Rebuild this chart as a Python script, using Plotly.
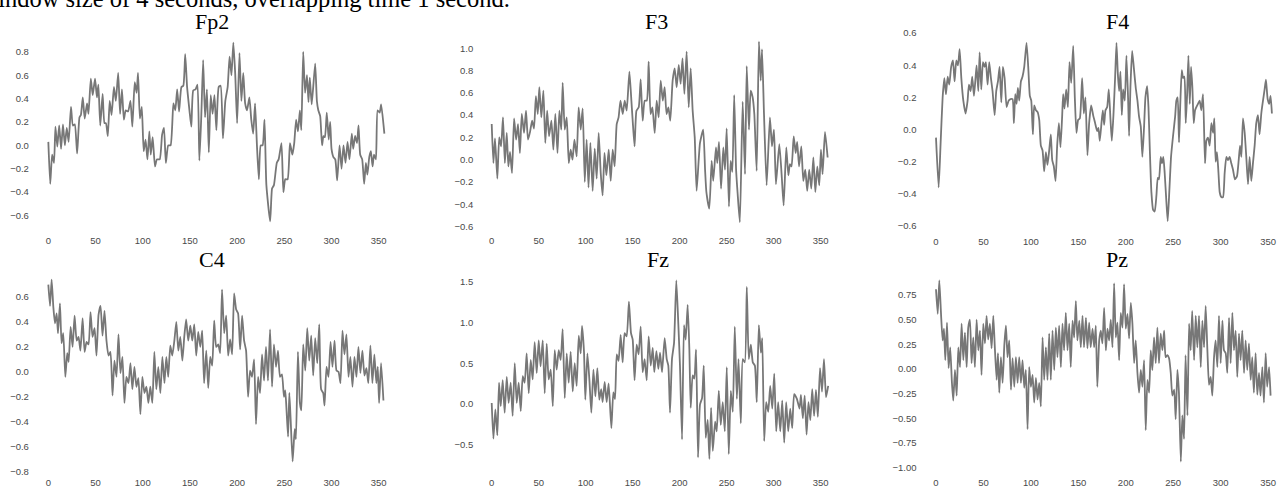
import plotly.graph_objects as go

W, H = 1288, 488

# ---------------- data ----------------
channels = ["Fp2", "F3", "F4", "C4", "Fz", "Pz"]

fp2 = [(0,0.03),(2,-0.33),(4,-0.08),(6,-0.15),(7.5,0.16),(9.5,-0.01),(11.5,0.17),(13.5,-0.03),(15.5,0.18),(17.5,0.0),
 (19.5,0.15),(21.5,0.03),(24,0.33),(26,0.17),(28,0.18),(30.5,-0.07),(33,0.24),(34.5,0.26),(36.5,0.41),(38.5,0.23),
 (41,0.36),(42.5,0.27),(45,0.57),(47,0.43),(49.5,0.57),(51.5,0.41),(53,0.52),(55,0.17),(57.5,0.44),(59.5,0.19),
 (61,0.19),(63,0.08),(65,0.38),(67,0.26),(69.5,0.5),(71.5,0.38),(74,0.62),(76,0.27),(78,0.48),(80,0.22),
 (82,0.3),(84.5,0.29),(87,0.38),(89,0.16),(91.5,0.54),(93.5,0.45),(95,0.62),(97,0.23),(99,0.33),(101,-0.05),
 (103,0.05),(105,-0.12),(107,0.12),(108.5,-0.08),(110.5,0.07),(113,-0.18),(115,-0.12),(118,-0.12),(120.5,0.09),(122.5,0.15),
 (124.5,-0.15),(127,0.0),(129.5,0.0),(132.5,0.36),(134.5,0.3),(136.5,0.48),(138.5,0.29),(141,0.5),(143,0.51),(145,0.78),
 (147,0.5),(149.5,0.3),(151.5,0.16),(153.5,0.47),(156,0.48),(158,0.52),(160,-0.13),(162,0.24),(164,0.73),(166,0.24),
 (168,0.48),(170,-0.06),(172,0.43),(174,0.27),(176,0.43),(178,0.13),(180.5,0.5),(182.5,0.51),(185,0.06),(187.5,0.38),
 (190,0.5),(192,0.76),(194,0.6),(196,0.88),(198,0.61),(200,0.19),(202.5,0.79),(204.5,0.38),(206.5,0.62),(208.5,0.36),
 (210.5,0.3),(213,0.41),(215,0.22),(217,0.1),(219,0.36),(221,0.0),(223,-0.29),(225,0.0),(227,0.0),(229,0.22),
 (231,-0.34),(235,-0.65),(237,-0.37),(239,-0.34),(242,-0.15),(244,-0.12),(247,0.02),(249,-0.4),(251,-0.29),(253.5,-0.29),
 (256,0.02),(258.5,-0.08),(260.5,0.02),(262.5,0.22),(264.5,0.12),(266.5,0.3),(268,0.13),(270,0.8),(272,0.45),(274,0.6),
 (275.6,0.37),(277,0.58),(279,0.35),(282.7,0.7),(284.5,0.38),(286,0.3),(288,0.25),(290,0.0),(291.5,0.08),(293,0.07),
 (295,0.28),(297,0.05),(298.6,0.2),(300,-0.03),(302,-0.1),(304,-0.12),(306,-0.3),(308.5,0.0),(310.6,-0.2),(312.7,0.0),
 (314.8,-0.15),(317,0.03),(319,-0.12),(321.5,0.1),(323,-0.03),(325,0.08),(327,0.02),(328.6,0.17),(330.4,-0.08),(332.5,-0.12),
 (334.6,-0.33),(336.4,-0.15),(338,-0.25),(340,-0.1),(341.7,-0.05),(343.5,-0.18),(345,-0.08),(347,-0.12),(348.8,0.3),(351,0.28),
 (352.6,0.35),(356,0.1)]

f3 = [(0,0.32),(1.8,-0.03),(3.5,0.19),(6,-0.17),(8,0.2),(10,0.12),(12,0.38),(14,-0.03),(16,0.24),(17.7,-0.06),
 (19.5,0.07),(21.6,-0.12),(23.8,0.37),(26,0.18),(28,0.32),(30,0.06),(32,0.41),(34.4,0.24),(36.5,0.44),(38.6,0.18),
 (40.8,0.25),(43,0.35),(45,0.28),(47,0.57),(49,0.41),(50.7,0.65),(52.8,0.38),(55,0.62),(57,0.15),(59,0.44),
 (61,0.21),(63.5,0.35),(65.6,0.09),(67.7,0.41),(70,0.06),(72,0.44),(74,0.27),(75.5,0.69),(77.7,0.27),(79.8,0.38),
 (82,-0.03),(84,0.09),(86,0.0),(88,0.18),(90.4,0.03),(92.5,0.47),(94.7,0.27),(96.8,0.46),(99,-0.2),(101,0.18),
 (103,-0.25),(105,0.15),(107.4,-0.28),(109.6,0.1),(111.7,-0.17),(113.8,0.24),(116,-0.12),(118,-0.32),(120,0.06),(122,-0.14),
 (124.5,0.09),(126.6,-0.19),(128.7,0.09),(130.8,-0.06),(133,0.32),(135,0.38),(137,0.53),(139.4,0.41),(141.5,0.53),(143.6,0.44),
 (146.5,0.79),(148.6,0.53),(150,0.35),(152,0.12),(154,0.44),(156.4,0.47),(158.5,0.72),(160.6,0.35),(162.8,0.53),(165,0.53),
 (167,0.88),(169,0.41),(171,0.47),(173.4,0.24),(175.5,0.53),(177.6,0.38),(179.8,0.71),(182,0.53),(184,0.65),(186,0.41),
 (188,0.47),(190,0.35),(192.5,0.71),(194.7,0.82),(196.8,0.65),(199,0.85),(201,0.68),(203,0.91),(205,0.59),(207.4,0.97),
 (209.6,0.47),(211.7,0.82),(213.8,0.44),(216,0.2),(218,-0.28),(221.6,0.15),(225,0.27),(227,-0.09),(228.4,-0.29),(231.5,-0.44),
 (234,-0.01),(235.7,-0.19),(238.6,0.11),(240,-0.03),(241.8,0.16),(244,-0.26),(246.4,0.11),(248.2,-0.09),(250,0.28),(252.4,-0.42),
 (254.2,-0.01),(256,-0.11),(258,0.58),(260,-0.09),(261.7,-0.31),(264,-0.56),(267,0.52),(269.5,-0.13),(271.3,0.84),(273.7,0.27),
 (275.5,0.62),(277.6,0.56),(279.4,0.41),(281.9,-0.1),(284.3,1.06),(286.2,0.71),(287.6,0.99),(289.7,0.41),(292.5,-0.23),(296,0.38),
 (298.2,0.12),(300.3,0.27),(302.4,-0.22),(306,0.14),(308.5,-0.14),(310.6,-0.41),(313.4,0.11),(315.6,-0.14),(317.3,-0.04),(319,-0.06),
 (321.3,0.21),(323.4,0.06),(325,0.16),(327,-0.06),(329.4,0.12),(331.5,-0.19),(333.6,-0.09),(335.7,-0.28),(337.8,-0.09),(340,-0.26),
 (342.2,0.02),(344.3,-0.29),(346.4,-0.06),(348.5,-0.23),(350.3,0.09),(352,-0.13),(354.6,0.25),(357.4,0.02)]

f4 = [(0,-0.05),(2.8,-0.36),(4.9,-0.08),(7,0.2),(8.8,0.32),(10.5,0.22),(12.3,0.33),(14,0.28),(16,0.39),(17.9,0.43),
 (19.6,0.3),(21.4,0.43),(23.2,0.4),(24.9,0.5),(26.7,0.32),(28.8,0.18),(31.2,0.1),(33.3,0.18),(34.7,0.28),(36.5,0.24),
 (38.2,0.33),(40,0.21),(41.4,0.3),(42.8,0.4),(44.6,0.24),(46,0.48),(47.7,0.25),(49.5,0.42),(51.2,0.39),(52.6,0.42),
 (54.4,0.28),(56.1,0.42),(57.9,0.32),(59.6,0.24),(61.8,0.09),(63.5,0.24),(65.3,0.3),(67,0.39),(68.8,0.17),(70.5,0.39),
 (72.3,0.32),(74.4,0.14),(76.5,0.18),(78.6,0.19),(80.7,0.19),(82.1,0.04),(83.5,0.22),(84.9,0.16),(86.3,0.26),(87.7,0.18),
 (89.5,0.3),(91.2,0.33),(93,0.39),(95.4,0.54),(97.2,0.39),(98.9,0.21),(100.4,0.18),(102.1,-0.03),(103.5,0.15),(105.3,0.12),
 (107,0.11),(108.8,0.06),(110.5,-0.1),(112.3,-0.13),(114,-0.26),(115.8,-0.14),(117.5,-0.22),(119.3,-0.13),(121,-0.03),(122.5,-0.19),
 (124.2,-0.23),(126,-0.32),(127.7,-0.1),(129.5,0.04),(131.2,-0.11),(133,0.09),(134,0.22),(135.4,0.13),(137.2,0.25),(139,0.14),
 (140.7,0.42),(142.5,0.29),(144.6,0.52),(146.3,0.2),(148,-0.02),(149.8,0.06),(151.6,0.07),(154,0.32),(155.8,0.1),(157.5,0.2),
 (159.6,-0.16),(161.4,0.04),(163.5,0.15),(165.6,0.09),(167.7,0.04),(169.8,-0.01),(171.2,0.01),(172.6,-0.07),(174.4,0.04),(175.8,0.12),
 (177.2,0.03),(178.6,0.12),(180.4,0.14),(182.1,0.25),(183.9,0.06),(185.3,-0.07),(187,0.09),(188.8,0.33),(190.2,0.54),(191.6,0.35),
 (193,0.24),(194.4,0.36),(195.8,0.09),(197.2,0.25),(199,0.18),(200.7,0.46),(202.5,0.18),(203.5,-0.04),(205,0.28),(206.7,0.49),
 (208.4,0.39),(210.5,0.26),(212.3,0.18),(214,0.08),(215.8,0.02),(217.5,-0.17),(219.3,0.02),(220.7,0.2),(222.5,0.27),(223.9,0.14),
 (225.3,-0.12),(227,-0.39),(228.8,-0.5),(230.5,-0.51),(232.3,-0.41),(233.7,-0.3),(235,-0.31),(236.8,-0.17),(238.2,-0.21),(239.6,-0.17),
 (241,-0.27),(242.8,-0.45),(244.2,-0.57),(246,-0.37),(247.7,-0.17),(249.8,-0.04),(252,0.08),(253.3,0.18),(254.7,0.2),(256.1,-0.08),
 (257.5,0.17),(259,0.37),(260.4,0.32),(261.8,0.33),(263.2,0.04),(264.6,0.21),(266,0.46),(267.4,0.16),(268.8,0.39),(270.2,0.26),
 (271.6,0.04),(273,0.12),(274.4,0.14),(276.1,0.16),(277.9,0.18),(279.6,0.12),(281.4,0.22),(283.5,-0.21),(284.9,-0.07),(286.7,-0.05),
 (288.4,-0.1),(290.2,0.04),(292,-0.02),(293.3,0.07),(294.7,-0.2),(296.1,-0.14),(297.5,-0.25),(299,-0.39),(300.7,-0.42),(302.5,-0.42),
 (304.2,-0.27),(306,-0.17),(307.7,-0.19),(309.5,-0.17),(311.2,-0.21),(313,-0.25),(315,-0.31),(317.2,-0.29),(319,-0.19),(320.4,-0.1),
 (321.8,-0.17),(323.5,0.07),(325.3,-0.02),(327,-0.17),(328.8,-0.34),(330.5,-0.17),(332.3,-0.32),(334,-0.21),(335.8,-0.1),(337.5,0.04),
 (339.3,0.09),(341,-0.03),(342.8,0.1),(344.6,0.18),(346.3,0.25),(347.7,0.31),(349.5,0.19),(351.2,0.16),(352.6,0.21),(354,0.1)]

c4 = [(0,0.7),(1.8,0.53),(3.5,0.74),(5.3,0.52),(7,0.39),(8.8,0.47),(10.2,0.31),(12.3,0.55),(14,0.23),(15.8,0.31),
 (18,-0.04),(20,0.15),(21.5,0.08),(23.6,0.36),(25.7,0.2),(27.8,0.45),(30,0.25),(32,0.28),(34,0.17),(36.3,0.43),
 (38.4,0.16),(40.5,0.24),(42.6,0.22),(44.7,0.48),(46.8,0.28),(49,0.35),(51,0.13),(53.2,0.46),(55.3,0.53),(57.4,0.29),
 (59.5,0.49),(61.6,0.25),(63.7,0.13),(65.8,0.16),(68,-0.19),(70,0.09),(72.2,-0.04),(74.3,0.3),(76.4,-0.01),(78.5,0.12),
 (80.6,-0.25),(82.7,-0.04),(84.9,-0.09),(87,0.07),(89,-0.14),(91.2,0.04),(93.3,-0.12),(95.4,-0.05),(97.5,-0.34),(99.6,-0.04),
 (101.8,-0.17),(103.9,-0.12),(106,-0.25),(108,-0.12),(110.2,-0.25),(112.3,0.16),(114.4,-0.14),(116.5,0.04),(118.7,-0.17),(120.8,0.12),
 (123,-0.09),(125,0.12),(127,-0.04),(129.2,0.21),(131.3,0.13),(133.5,0.25),(135.6,0.4),(137.7,0.17),(139.8,0.28),(142,0.09),
 (144,0.28),(146,0.42),(148.2,0.25),(150.4,0.37),(152.5,0.25),(154.6,0.38),(156.7,0.13),(158.8,0.32),(161,0.2),(163,0.33),
 (165,-0.09),(167.3,0.17),(169.4,-0.13),(171.5,0.12),(173.6,0.05),(175.7,0.41),(177.8,0.2),(180,0.22),(182,0.15),(184,0.66),
 (186.3,0.31),(188.4,0.45),(190.5,0.13),(192.6,0.26),(194.7,0.14),(196.8,0.63),(199,0.5),(201,0.47),(203.2,0.18),(205.3,0.45),
 (207.4,0.25),(209.5,0.17),(211.6,-0.2),(213.7,0.01),(215.8,-0.04),(218,0.1),(220,-0.42),(222.2,-0.04),(224.3,-0.17),(226.4,0.14),
 (228.5,-0.07),(230.6,0.2),(232.7,-0.07),(234.9,0.34),(237,-0.12),(239,0.22),(241.2,0.04),(243.3,0.17),(245.4,-0.04),(247.5,-0.02),
 (249.6,-0.2),(251,-0.15),(252.5,-0.33),(254,-0.52),(255.3,-0.17),(256.7,-0.38),(258.8,-0.72),(261,-0.46),(262.3,-0.54),(264.4,0.16),
 (266.5,-0.25),(268,-0.31),(270,0.22),(272.2,0.01),(274.3,0.35),(276.4,0.09),(278.5,0.29),(280.6,-0.03),(282.7,0.27),(284.9,0.07),
 (287,0.38),(289,-0.14),(291.2,-0.17),(292.6,-0.27),(294.7,0.04),(296.8,-0.04),(299,0.24),(301,0.04),(303.2,0.25),(305.3,0.01),
 (307.4,0.0),(309.5,-0.09),(311.6,0.33),(313.7,0.14),(315.8,0.3),(318,-0.04),(320,0.12),(322.2,-0.12),(324.3,0.12),(326.4,-0.04),
 (328.5,0.2),(330.6,-0.01),(332.7,0.17),(334.9,-0.03),(337,0.03),(339,-0.09),(341.2,0.21),(343.3,-0.09),(345.4,0.14),(347.5,-0.09),
 (349,0.04),(350.4,-0.25),(352.5,0.07),(355,-0.23)]

fz = [(0,0.01),(1.8,-0.43),(3.9,-0.07),(6,-0.39),(7.8,0.26),(9.6,-0.03),(11.7,0.29),(13.8,-0.11),(16,0.33),(18,0.01),
 (20.2,0.26),(22.3,-0.15),(24.5,0.5),(26.6,0.01),(28.7,0.26),(30.9,-0.09),(33,0.34),(35.1,0.26),(37.2,0.62),(39.4,0.13),
 (41.5,0.54),(43.6,0.3),(45.7,0.76),(47.9,0.38),(50,0.78),(52,0.46),(54.3,0.78),(56.4,0.13),(58.5,0.74),(60.6,0.3),
 (62.8,0.42),(65,-0.03),(67,0.66),(69.1,0.42),(71.3,0.66),(73.4,0.54),(75.5,0.92),(77.7,0.07),(79.8,0.62),(81.9,0.26),
 (84,0.64),(86.2,0.15),(88.3,0.5),(90.4,0.22),(92.6,0.84),(94.7,0.62),(96.1,0.96),(98.2,0.64),(99.6,0.05),(101.8,0.62),
 (103.9,0.3),(106,-0.11),(108.2,0.42),(110.3,0.09),(112.4,0.44),(114.5,0.05),(116.5,0.18),(118,0.02),(120.2,0.27),(122.3,0.02),
 (124.4,0.25),(127.3,-0.3),(129.4,0.14),(131.2,0.06),(133,0.61),(135,0.53),(137.2,0.85),(139.3,0.51),(141.4,0.87),(143.6,0.83),
 (146,1.26),(148.2,0.87),(150,0.79),(152,0.29),(154.2,0.73),(156.3,0.61),(158.5,0.95),(160.6,0.39),(162.7,0.55),(164.9,0.29),
 (167,0.83),(169.2,0.47),(171.3,0.69),(173,0.39),(175.2,0.65),(177.3,0.43),(179.1,0.63),(181.2,0.39),(184,0.81),(186.2,0.55),
 (187.9,0.47),(189.7,-0.11),(191.8,0.55),(194,0.75),(196.4,1.52),(198.6,0.97),(200.3,0.47),(202.5,-0.44),(204.6,0.97),(206.4,0.79),
 (208.5,1.22),(210.3,0.67),(211.7,-0.05),(213.8,0.35),(215.6,0.31),(217.4,0.67),(219.5,-0.66),(221.6,-0.01),(223.8,0.07),(225.6,0.47),
 (227.7,-0.42),(229.8,-0.2),(231.6,-0.68),(233.4,-0.05),(235.2,-0.58),(237.7,-0.22),(239.4,-0.34),(241.6,0.16),(243.7,-0.26),(245.8,0.02),
 (248,-0.34),(250.1,0.45),(252.2,-0.62),(254.4,0.16),(256.5,-0.1),(258.6,0.95),(260.8,0.06),(262.6,0.55),(265,-0.24),(267.1,0.55),
 (269.3,0.51),(271.4,1.44),(273.5,0.55),(275.7,0.73),(277.8,0.51),(280,0.47),(282,0.02),(284.2,0.97),(286.4,0.63),(287.8,0.81),
 (289.9,-0.46),(292,0.02),(294.2,-0.1),(296.3,0.22),(298.5,-0.06),(300.6,0.37),(302.7,-0.34),(304.8,0.02),(307,-0.34),(309.1,0.04),
 (311.2,-0.48),(313.3,0.02),(315.5,-0.34),(317.6,-0.06),(319.7,-0.3),(321.8,0.12),(324.7,0.06),(327.5,-0.06),(329,0.11),(331,-0.18),
 (333,0.1),(335,-0.38),(337,0.02),(339,-0.2),(341,0.18),(343,-0.15),(345,0.17),(347,-0.16),(349.3,0.44),(351.4,0.15),
 (353.5,0.55),(355.7,0.08),(358,0.22)]

pz = [(0,0.81),(1.8,0.56),(3.5,0.9),(5.3,0.56),(7,0.29),(8.4,0.41),(9.8,0.09),(11.6,0.47),(13.3,0.01),(15,0.22),
 (16.8,-0.14),(18.2,-0.32),(20,-0.01),(21.8,-0.27),(23.5,0.22),(25.3,0.02),(27,0.46),(28.8,0.09),(30.5,0.37),(32.3,0.02),
 (34,0.42),(35.8,0.5),(37.5,0.06),(39.3,0.32),(41,0.02),(42.8,0.5),(44.6,0.19),(46.3,0.39),(48,-0.06),(49.8,0.46),
 (51.6,0.26),(53.3,0.54),(55,0.3),(56.8,0.46),(58.6,0.21),(60.4,0.54),(62,0.22),(63.9,-0.11),(65.3,0.16),(66.7,-0.24),
 (68.4,0.12),(70.2,-0.14),(72,0.24),(73.7,0.44),(75.4,0.12),(77.2,0.29),(79,-0.21),(80.7,0.11),(82.5,-0.18),(84.2,0.12),
 (86,-0.14),(87.7,0.12),(89.5,-0.14),(91.2,0.09),(93,-0.19),(94.7,-0.01),(96.5,-0.61),(98.2,0.02),(100,-0.18),(101.8,-0.06),
 (103.5,-0.34),(105.3,-0.09),(107,-0.31),(108.8,-0.14),(110.5,-0.38),(112.3,0.32),(114,-0.11),(115.8,0.22),(117.5,-0.11),(119.3,0.36),
 (121,-0.11),(122.8,0.39),(124.6,-0.01),(126.3,0.42),(128,0.12),(129.8,0.44),(131.6,0.02),(133.3,0.46),(135,0.19),(136.8,0.57),
 (138.6,0.19),(140.4,0.46),(142,0.02),(143.9,0.49),(145.6,0.32),(147.4,0.69),(149,0.29),(151,0.49),(152.6,0.22),(154.4,0.54),
 (156,0.22),(158,0.52),(159.6,0.21),(161.4,0.47),(163,0.22),(165,0.41),(166.7,0.22),(168.4,0.44),(170,-0.18),(172,0.29),
 (173.7,0.39),(175.4,0.26),(177.2,0.62),(179,0.19),(180.7,0.41),(182.5,0.29),(184.2,0.5),(186,0.22),(187.7,0.87),(189.5,0.32),
 (191.2,0.47),(193,0.09),(194.7,0.57),(196.5,0.42),(198.2,0.86),(200,0.41),(201.8,0.56),(203.5,0.31),(205.3,0.67),(207,0.46),
 (208.8,0.06),(210.5,0.29),(212.3,-0.04),(214,-0.24),(215.8,-0.01),(217.5,-0.18),(219.3,0.09),(221,-0.62),(222.8,-0.11),(224.6,-0.24),
 (226.3,0.19),(228,-0.01),(229.8,0.32),(231.6,0.06),(233.3,0.42),(235,0.06),(236.8,0.36),(238.6,0.19),(240.4,0.39),(242,0.12),
 (243.9,0.14),(245.6,0.11),(247.4,-0.04),(249,-0.27),(251,-0.21),(252.6,-0.51),(254.4,-0.01),(256,-0.24),(258,-0.94),(259.6,-0.47),
 (261.4,-0.71),(263,0.14),(265,-0.47),(266.7,0.46),(268.4,0.19),(270,0.59),(272,0.09),(273.7,0.54),(275.4,0.22),(277.2,0.54),
 (279,0.02),(280.7,0.49),(282.5,0.22),(284.2,0.64),(286,0.19),(287.7,-0.16),(289.5,-0.08),(291.2,-0.27),(293,0.12),(294.7,0.29),
 (296.5,0.02),(298.2,0.54),(300,0.06),(301.8,0.49),(303.5,0.19),(305.3,0.16),(307,-0.04),(308.8,0.52),(310.5,0.06),(312.3,0.57),
 (314,0.19),(315.8,0.39),(317.5,-0.08),(319.3,0.36),(321,0.09),(322.8,0.39),(324.6,-0.04),(326.3,0.29),(328,-0.01),(329.8,0.26),
 (331.6,-0.11),(333.3,0.12),(335,-0.24),(336.8,0.16),(338.6,-0.26),(340.4,-0.04),(342,-0.27),(343.9,0.02),(345.6,-0.34),(347.4,0.16),
 (349,-0.18),(351,0.02),(352.6,-0.27)]

series = {"Fp2": fp2, "F3": f3, "F4": f4, "C4": c4, "Fz": fz, "Pz": pz}

x_tickvals = [0, 50, 100, 150, 200, 250, 300, 350]
y_tickvals = {
    "Fp2": [-0.6, -0.4, -0.2, 0.0, 0.2, 0.4, 0.6, 0.8],
    "F3":  [-0.6, -0.4, -0.2, 0.0, 0.2, 0.4, 0.6, 0.8, 1.0],
    "F4":  [-0.6, -0.4, -0.2, 0.0, 0.2, 0.4, 0.6],
    "C4":  [-0.8, -0.6, -0.4, -0.2, 0.0, 0.2, 0.4, 0.6, 0.8],
    "Fz":  [-0.5, 0.0, 0.5, 1.0, 1.5],
    "Pz":  [-1.0, -0.75, -0.5, -0.25, 0.0, 0.25, 0.5, 0.75],
}
y_decimals = {"Fp2": 1, "F3": 1, "F4": 1, "C4": 1, "Fz": 1, "Pz": 2}
caption = "Window size of 4 seconds, overlapping time 1 second."

# ---------------- geometry (pixels) ----------------
col_px = {0: (38.9, 395.7), 1: (482.3, 837.6), 2: (926.5, 1285.2)}
x_range = [-10, 368]
panel = {
    "Fp2": dict(col=0, ypx=(32.9, 231.3), yr=(-0.72, 0.95), ystand=9, xstand=4, title=(212, 20)),
    "F3":  dict(col=1, ypx=(35.7, 231.7), yr=(-0.63, 1.10), ystand=8, xstand=4, title=(656, 20)),
    "F4":  dict(col=2, ypx=(28.4, 231.8), yr=(-0.625, 0.62), ystand=9, xstand=4, title=(1117, 20)),
    "C4":  dict(col=0, ypx=(277.2, 477.3), yr=(-0.80, 0.78), ystand=9, xstand=4, title=(212, 262)),
    "Fz":  dict(col=1, ypx=(276.5, 472.8), yr=(-0.78, 1.60), ystand=8, xstand=8, title=(658, 262)),
    "Pz":  dict(col=2, ypx=(281.0, 475.3), yr=(-1.02, 0.92), ystand=9, xstand=6, title=(1117, 262)),
}

LINE = "#777777"
TICKFONT = dict(family="Liberation Sans, Arial, sans-serif", size=9.5, color="#4a4a4a")
TITLEFONT = dict(family="Liberation Serif, Times New Roman, serif", size=22, color="#000000")
CAPFONT = dict(family="Liberation Serif, Times New Roman, serif", size=24.5, color="#000000")

fig = go.Figure()
layout = dict(
    width=W, height=H, margin=dict(l=0, r=0, t=0, b=0),
    paper_bgcolor="white", plot_bgcolor="white", showlegend=False,
    annotations=[],
)

for i, name in enumerate(channels, start=1):
    p = panel[name]
    xs = [pt[0] for pt in series[name]]
    ys = [pt[1] for pt in series[name]]
    fig.add_trace(go.Scatter(x=xs, y=ys, mode="lines", xaxis=f"x{i}", yaxis=f"y{i}",
                             line=dict(color=LINE, width=1.8, shape="spline", smoothing=0.5),
                             hoverinfo="skip"))
    x0, x1 = col_px[p["col"]]
    y0, y1 = p["ypx"]
    d = y_decimals[name]
    ticktext = [f"{v:.{d}f}".replace("-", "\u2212") for v in y_tickvals[name]]
    layout[f"xaxis{i}"] = dict(
        domain=[x0 / W, x1 / W], range=x_range, anchor=f"y{i}",
        showgrid=False, zeroline=False, showline=False, ticks="",
        tickvals=x_tickvals, tickfont=TICKFONT, ticklabelstandoff=p["xstand"], fixedrange=True,
    )
    layout[f"yaxis{i}"] = dict(
        domain=[1 - y1 / H, 1 - y0 / H], range=list(p["yr"]), anchor=f"x{i}",
        showgrid=False, zeroline=False, showline=False, ticks="",
        tickvals=y_tickvals[name], ticktext=ticktext, tickfont=TICKFONT,
        ticklabelstandoff=p["ystand"], fixedrange=True,
    )
    tx, ty = p["title"]
    layout["annotations"].append(dict(
        text=name, x=tx / W, y=1 - ty / H, xref="paper", yref="paper",
        xanchor="center", yanchor="middle", showarrow=False, font=TITLEFONT,
    ))

layout["annotations"].append(dict(
    text=caption, x=512 / W, y=1 + 4 / H, xref="paper", yref="paper",
    xanchor="right", yanchor="middle", showarrow=False, font=CAPFONT,
))

fig.update_layout(**layout)
fig.write_html("out.html", config={"displayModeBar": False})
